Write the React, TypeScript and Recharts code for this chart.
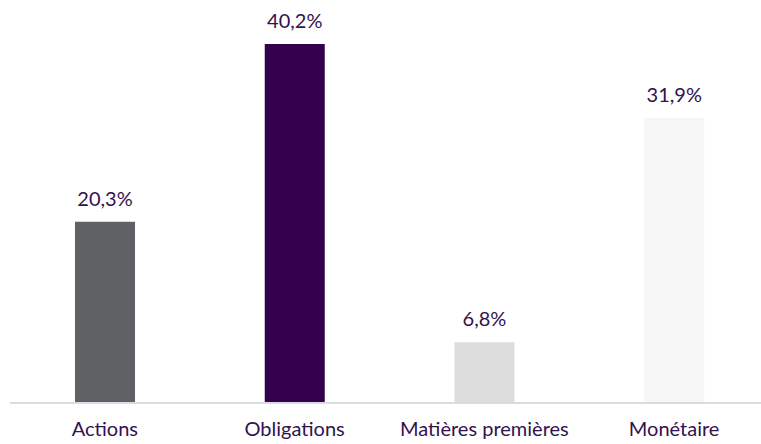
import { BarChart, Bar, XAxis, YAxis, Cell, LabelList } from 'recharts';

const categories = ['Actions', 'Obligations', 'Matières premières', 'Monétaire'];
const values = [20.3, 40.2, 6.8, 31.9];
const colors = ['#5f6165', '#32004d', '#dddddd', '#f6f6f6'];

const data = categories.map((name, i) => ({ name, value: values[i] }));

const textColor = '#32124f';
const fmt = (v: any) => `${Number(v).toFixed(1).replace('.', ',')}%`;

export default function App() {
  return (
    <div style={{ position: 'absolute', left: 0, top: 0, width: 761, height: 444, overflow: 'hidden', background: '#fff' }}>
      <BarChart
        width={779}
        height={444}
        data={data}
        margin={{ top: 44, right: 10, left: 10, bottom: 0 }}
        style={{ fontFamily: 'Lato, sans-serif' }}
      >
        <XAxis
          dataKey="name"
          height={41}
          axisLine={{ stroke: '#d9dde3', strokeWidth: 2 }}
          tickLine={false}
          tick={{ fill: textColor, fontSize: 20 }}
          tickMargin={13}
          interval={0}
        />
        <YAxis hide domain={[0, 40.2]} />
        <Bar dataKey="value" barSize={60} isAnimationActive={false}>
          {data.map((d, i) => (
            <Cell key={d.name} fill={colors[i]} />
          ))}
          <LabelList dataKey="value" position="top" offset={16} formatter={fmt} fill={textColor} fontSize={20} />
        </Bar>
      </BarChart>
    </div>
  );
}
